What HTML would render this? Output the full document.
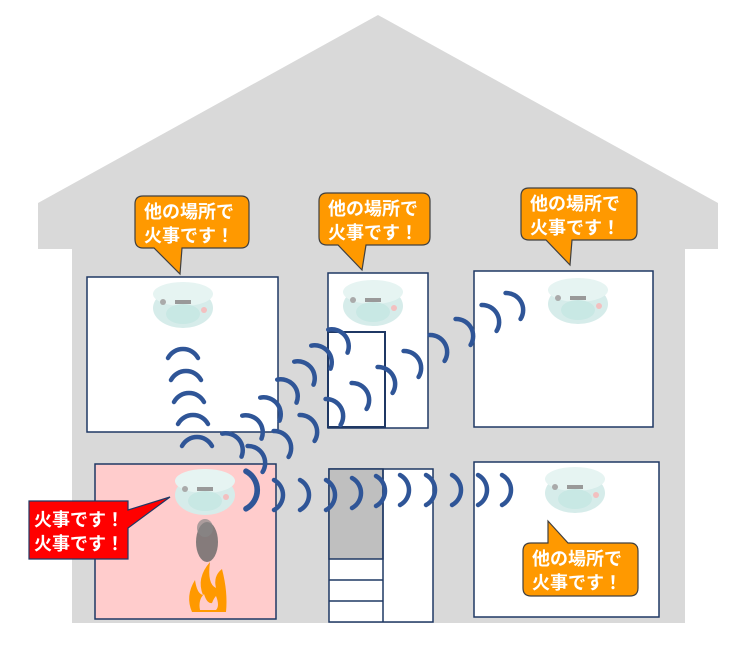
<!DOCTYPE html>
<html><head><meta charset="utf-8"><style>
body{margin:0;background:#fff;}
svg{display:block}
text{font-family:"Liberation Sans","Noto Sans CJK JP",sans-serif;font-weight:bold;fill:#fff;font-size:18px}
</style></head><body>
<svg width="730" height="648" viewBox="0 0 730 648" xmlns="http://www.w3.org/2000/svg">
<defs>
<g id="det">
<ellipse cx="0" cy="8" rx="30" ry="20" fill="#d6ecea"/>
<ellipse cx="0" cy="-6" rx="30" ry="12" fill="#e6f4f2"/>
<ellipse cx="0" cy="14" rx="17" ry="10" fill="#c8e8e4"/>
<rect x="-8" y="0" width="16" height="4" fill="#999"/>
<circle cx="-20" cy="2" r="3" fill="#aaa"/>
<circle cx="21" cy="10" r="3" fill="#f3c0c0"/>
</g>
<path id="arc" d="M -15 8 A 17 17 0 0 1 15 8" fill="none" stroke="#2f5597" stroke-width="4.5" stroke-linecap="round"/>
</defs>
<polygon points="38,203 378,15 718,203 718,249 685,249 685,623 72,623 72,249 38,249" fill="#d9d9d9"/>
<rect x="87" y="277" width="191" height="155" fill="#fff" stroke="#1f3864" stroke-width="1.5"/>
<rect x="328" y="273" width="100" height="155" fill="#fff" stroke="#1f3864" stroke-width="1.5"/>
<rect x="328" y="332" width="57" height="95" fill="none" stroke="#1f3864" stroke-width="2"/>
<rect x="474" y="271" width="179" height="156" fill="#fff" stroke="#1f3864" stroke-width="1.5"/>
<rect x="95" y="464" width="181" height="155" fill="#ffcccc" stroke="#1f3864" stroke-width="1.5"/>
<rect x="329" y="469" width="104" height="153" fill="#fff" stroke="#1f3864" stroke-width="1.5"/>
<rect x="329" y="469" width="54" height="90" fill="#bfbfbf" stroke="#1f3864" stroke-width="1.5"/>
<line x1="383" y1="469" x2="383" y2="622" stroke="#1f3864" stroke-width="1.5"/>
<line x1="329" y1="580" x2="383" y2="580" stroke="#1f3864" stroke-width="1.5"/>
<line x1="329" y1="601" x2="383" y2="601" stroke="#1f3864" stroke-width="1.5"/>
<rect x="474" y="462" width="185" height="155" fill="#fff" stroke="#1f3864" stroke-width="1.5"/>
<use href="#det" x="183" y="300"/>
<use href="#det" x="373" y="298"/>
<use href="#det" x="578" y="296"/>
<use href="#det" x="205" y="487"/>
<use href="#det" x="575" y="485"/>
<ellipse cx="207" cy="542" rx="11" ry="20" fill="#666" opacity="0.8"/>
<ellipse cx="205" cy="528" rx="8" ry="9" fill="#888" opacity="0.7"/>
<path d="M192 612 Q185 596 195 580 Q197 594 203 595 Q196 578 210 562 Q207 584 216 588 Q213 576 222 569 Q228 592 226 612 Z" fill="#ff9900"/>
<path d="M200 610 Q198 600 204 594 Q207 604 212 603 Q214 598 216 596 Q220 606 216 610 Z" fill="#ffcccc"/>
<use href="#arc" x="183" y="350"/>
<use href="#arc" x="186" y="372"/>
<use href="#arc" x="189" y="394"/>
<use href="#arc" x="193" y="416"/>
<use href="#arc" x="197" y="438"/>
<g>
<use href="#arc" transform="translate(238,440) rotate(50)"/>
<use href="#arc" transform="translate(258,422) rotate(50)"/>
<use href="#arc" transform="translate(276,404) rotate(50)"/>
<use href="#arc" transform="translate(293,386) rotate(50)"/>
<use href="#arc" transform="translate(310,368) rotate(50)"/>
<use href="#arc" transform="translate(327,352) rotate(50)"/>
<use href="#arc" transform="translate(344,336) rotate(50)"/>
</g>
<g>
<use href="#arc" transform="translate(262,455) rotate(60)"/>
<use href="#arc" transform="translate(288,440) rotate(60)"/>
<use href="#arc" transform="translate(314,424) rotate(60)"/>
<use href="#arc" transform="translate(340,408) rotate(60)"/>
<use href="#arc" transform="translate(366,392) rotate(60)"/>
<use href="#arc" transform="translate(392,376) rotate(60)"/>
<use href="#arc" transform="translate(418,360) rotate(60)"/>
<use href="#arc" transform="translate(444,344) rotate(60)"/>
<use href="#arc" transform="translate(470,328) rotate(60)"/>
<use href="#arc" transform="translate(496,314) rotate(60)"/>
<use href="#arc" transform="translate(520,302) rotate(60)"/>
</g>
<g>
<use href="#arc" transform="translate(256,490) rotate(90) scale(1.25)"/>
<use href="#arc" transform="translate(282,495) rotate(90)"/>
<use href="#arc" transform="translate(308,495) rotate(90)"/>
<use href="#arc" transform="translate(334,495) rotate(90)"/>
<use href="#arc" transform="translate(360,493) rotate(90)"/>
<use href="#arc" transform="translate(384,491) rotate(90)"/>
<use href="#arc" transform="translate(408,490) rotate(90)"/>
<use href="#arc" transform="translate(434,490) rotate(90)"/>
<use href="#arc" transform="translate(460,490) rotate(90)"/>
<use href="#arc" transform="translate(486,490) rotate(90)"/>
<use href="#arc" transform="translate(510,490) rotate(90)"/>
</g>
<g stroke="#404040" stroke-width="1.2" fill="#ff9900">
<path d="M143 196 H241 Q249 196 249 204 V239 Q249 248 241 248 H182 L180 274 L154 248 H143 Q135 248 135 239 V204 Q135 196 143 196 Z"/>
<path d="M327 193 H422 Q430 193 430 201 V237 Q430 245 422 245 H366 L362 270 L338 245 H327 Q319 245 319 237 V201 Q319 193 327 193 Z"/>
<path d="M529 188 H629 Q637 188 637 196 V232 Q637 240 629 240 H572 L570 265 L546 240 H529 Q521 240 521 232 V196 Q521 188 529 188 Z"/>
<path d="M531 543 H548 L548 521 L568 543 H630 Q638 543 638 551 V588 Q638 596 630 596 H531 Q523 596 523 588 V551 Q523 543 531 543 Z"/>
</g>
<path d="M29 501 H128 V510 L170 497 L128 528 V559 H29 Z" fill="#ff0000" stroke="#1f3864" stroke-width="1.2"/>
<text x="144" y="218">他の場所で</text><text x="144" y="242">火事です！</text>
<text x="328" y="215">他の場所で</text><text x="328" y="239">火事です！</text>
<text x="530" y="210">他の場所で</text><text x="530" y="234">火事です！</text>
<text x="532" y="565">他の場所で</text><text x="532" y="589">火事です！</text>
<text x="34" y="526">火事です！</text><text x="34" y="550">火事です！</text>
</svg>
</body></html>
